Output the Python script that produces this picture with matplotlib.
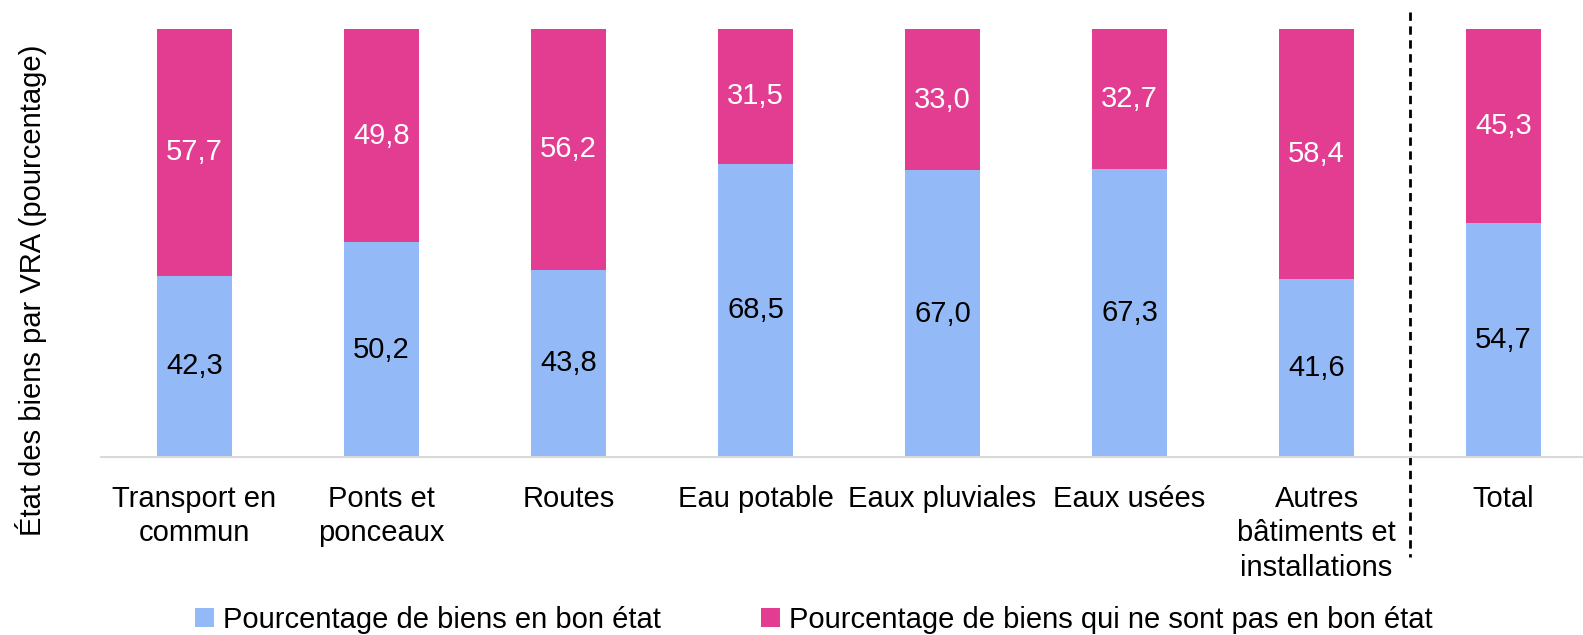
import numpy as np
import matplotlib.pyplot as plt

plt.rcParams['font.family'] = ['Liberation Sans', 'DejaVu Sans']

categories = ['Transport en\ncommun', 'Ponts et\nponceaux', 'Routes', 'Eau potable',
              'Eaux pluviales', 'Eaux usées', 'Autres\nbâtiments et\ninstallations', 'Total']
bon_etat = [42.3, 50.2, 43.8, 68.5, 67.0, 67.3, 41.6, 54.7]
pas_bon_etat = [57.7, 49.8, 56.2, 31.5, 33.0, 32.7, 58.4, 45.3]

blue = '#93BAF6'
pink = '#E33D91'
fs = 21

fig = plt.figure(figsize=(15.83, 6.35), dpi=100)
ax = fig.add_axes([101/1583, 1 - 457/635, 1482/1583, 428/635])

x = np.arange(len(categories))
w = 0.40
b1 = ax.bar(x, bon_etat, w, color=blue, label='Pourcentage de biens en bon état')
b2 = ax.bar(x, pas_bon_etat, w, bottom=bon_etat, color=pink,
            label='Pourcentage de biens qui ne sont pas en bon état')

fmt = lambda v: f'{v:.1f}'.replace('.', ',')
for xi, v in zip(x, bon_etat):
    ax.text(xi, v / 2, fmt(v), ha='center', va='center', fontsize=fs, color='black')
for xi, b, v in zip(x, bon_etat, pas_bon_etat):
    ax.text(xi, b + v / 2, fmt(v), ha='center', va='center', fontsize=fs, color='white')

ax.set_xlim(-0.5, 7.425)
ax.set_ylim(0, 100)
ax.set_xticks(x)
ax.set_xticklabels(categories, fontsize=fs, linespacing=1.3, va='top')
ax.tick_params(axis='x', length=0, pad=20)
ax.set_yticks([])
for s in ['top', 'right', 'left']:
    ax.spines[s].set_visible(False)
ax.spines['bottom'].set_color('#D9D9D9')
ax.spines['bottom'].set_linewidth(1.5)

# separator before Total
ax.plot([6.5, 6.5], [1.04, -0.234], transform=ax.get_xaxis_transform(), color='black',
        linestyle=(0, (3, 2)), linewidth=2, clip_on=False)

fig.text(31/1583, 1 - 290/635, 'État des biens par VRA (pourcentage)', rotation=90,
         ha='center', va='center', fontsize=fs)

fig.legend(handles=[b1, b2], loc='center', bbox_to_anchor=(0.514, 1 - 620/635), ncol=2,
           frameon=False, fontsize=fs, handlelength=0.65, handleheight=0.65,
           handletextpad=0.3, columnspacing=3.45)

fig.savefig('out.png', dpi=100)
